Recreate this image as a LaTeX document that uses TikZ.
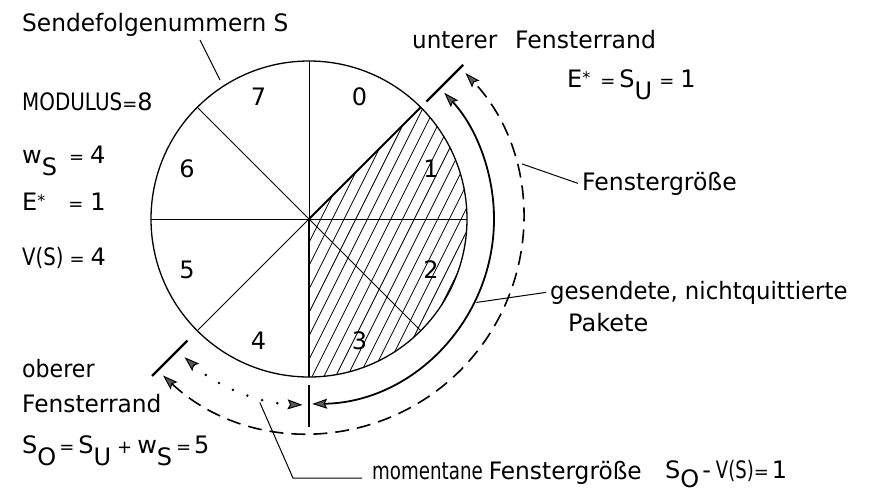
\documentclass[tikz,border=0pt]{standalone}
\usepackage{fontspec}
\setmainfont{DejaVu Sans}
\usetikzlibrary{arrows.meta,calc}
\newcommand\mytx[2][0.97]{\scalebox{#1}[1]{#2}}
\newcommand\myeq{{\fontsize{18}{18}\selectfont =}}
\newcommand\mypl{{\fontsize{18}{18}\selectfont +}}
\newcommand\myast{\raisebox{4pt}{\fontsize{16}{16}\selectfont *}}
\newcommand\mylow[2][-12pt]{\raisebox{#1}{#2}}
\begin{document}
\begin{tikzpicture}[x=1pt,y=1pt,
  >={Stealth[length=15pt,width=10pt,inset=2.5pt,fill=black!65,line width=1pt]},
  txt/.style={anchor=base west,inner sep=0pt,font=\fontsize{24}{26}\selectfont},
  digit/.style={inner sep=0pt,font=\fontsize{24}{26}\selectfont},
  secline/.style={line width=1pt},
  heavyline/.style={line width=1.9pt},
  tickline/.style={line width=2.4pt},
  leader/.style={line width=1pt}]
\useasboundingbox (0,0) rectangle (873,-496);

% ---------------- circle ----------------
\begin{scope}[shift={(309,-219)}]
  \begin{scope}
    \clip (0,0) -- (45:158) arc[start angle=45,end angle=-90,radius=158] -- cycle;
    \foreach \i in {-6,...,22}
      \draw[line width=0.8pt] (\i*11.7-120,-240) -- (\i*11.7+120,240);
  \end{scope}
  \draw[line width=1.3pt] (0,0) circle[radius=158];
  \foreach \a in {0,90,135,180,225,315} \draw[secline] (0,0) -- (\a:158);
  \draw[heavyline] (0,0) -- (45:158);
  \draw[heavyline] (0,0) -- (270:158);
  % sector numbers
  \node[digit] (s0) at (67.5:132) {0};
  \node[digit] (s1) at (22.5:132) {1};
  \node[digit] (s2) at (-22.5:132) {2};
  \node[digit] (s3) at (-67.5:132) {3};
  \node[digit] (s4) at (-112.5:132) {4};
  \node[digit] (s5) at (-157.5:132) {5};
  \node[digit] (s6) at (157.5:132) {6};
  \node[digit] (s7) at (112.5:132) {7};
  % window edge ticks
  \draw[tickline] (45:166) -- (45:218);
  \draw[tickline] (225:172) -- (225:222);
  \draw[line width=1.6pt] (270:166) -- (270:208);
  % arcs
  \draw[line width=1.8pt,<->] (-89:185) arc[start angle=-89,end angle=43,radius=185];
  \draw[line width=1.6pt,dash pattern=on 14pt off 8pt,<->] (-133:214) arc[start angle=-133,end angle=43,radius=214];
  \draw[line width=2.8pt,line cap=round,dash pattern=on 0pt off 15.5pt,<->] (228:186) arc[start angle=228,end angle=268,radius=186];
  % leader anchor points
  \coordinate (fgA) at (14.5:220);
  \coordinate (gsA) at (-26.5:187);
  \coordinate (moA) at (255:190);
\end{scope}

% ---------------- texts ----------------
\node[txt] (sf) at (22,-31) {\mytx{Sendefolgenummern S}};
\coordinate (sfA) at (200,-40);
\coordinate (sfB) at (220,-80);
\draw[leader] (sfA) -- (sfB);

\node[txt] (mod) at (22,-110) {\mytx[0.83]{MODULUS}\myeq 8};
\node[txt] (ws) at (22,-163) {w\mylow{S}\hspace{12pt}\myeq\hspace{6pt}4};
\node[txt] (es) at (22,-210) {E\myast\hspace{23pt}\myeq\hspace{7pt}1};
\node[txt] (vs) at (22,-265) {\mytx[0.82]{V(S)}\hspace{6pt}\myeq\hspace{6pt}4};

\node[txt] (ufr) at (412,-48) {\mytx[0.96]{unterer}\hspace{18pt}\mytx[0.98]{Fensterrand}};
\node[txt] (esu) at (567,-87) {E\myast\hspace{10pt}\myeq\hspace{4pt}S\mylow{U}\hspace{7pt}\myeq\hspace{6pt}1};

\node[txt] (fg) at (582,-190) {\mytx[0.98]{Fenstergröße}};
\draw[leader] (fgA) -- ([xshift=-4pt]fg.west);

\node[txt] (gs) at (550,-299) {\mytx[0.95]{gesendete, nichtquittierte}};
\node[txt] (pk) at (568,-331) {\mytx[1.0]{Pakete}};
\draw[leader] (gsA) -- ([xshift=-4pt]gs.west);

\node[txt] (ob) at (22,-377) {\mytx[0.92]{oberer}};
\node[txt] (ofr) at (22,-412) {\mytx{Fensterrand}};
\node[txt] (so) at (22,-453) {S\mylow{O}\hspace{3pt}\myeq\hspace{4pt}S\mylow{U}\hspace{6pt}\mypl\hspace{5pt}w\mylow{S}\hspace{4pt}\myeq\hspace{3pt}5};

\node[txt] (mo) at (372,-479) {\mytx[0.76]{momentane}\hspace{6pt}\mytx[0.97]{Fenstergröße}};
\node[txt] (sov) at (665,-478) {S\mylow[-9pt]{O}\hspace{3pt}-\hspace{5pt}\mytx[0.75]{V(S)}\myeq\hspace{3pt}1};
\coordinate (moB) at (293,-478);
\coordinate (moC) at (362,-478);
\draw[leader] (moA) -- (moB) -- (moC);
\end{tikzpicture}
\end{document}
